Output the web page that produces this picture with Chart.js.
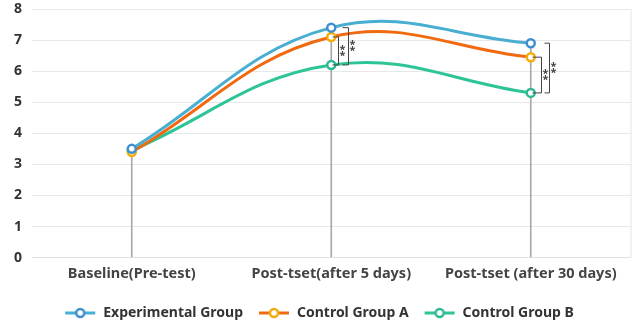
<!DOCTYPE html>
<html>
<head>
<meta charset="utf-8">
<script src="https://cdn.jsdelivr.net/npm/chart.js@4/dist/chart.umd.min.js"></script>
<style>
  html, body { margin: 0; padding: 0; background: #fff; }
  #wrap { width: 637px; height: 326px; }
</style>
</head>
<body>
<div id="wrap"><canvas id="c"></canvas></div>
<script>
const categories = ['Baseline(Pre-test)', 'Post-tset(after 5 days)', 'Post-tset (after 30 days)']
const experimental = [3.5, 7.4, 6.9]
const controlA = [3.4, 7.1, 6.45]
const controlB = [3.45, 6.2, 5.3]
const yTicks = [0, 1, 2, 3, 4, 5, 6, 7, 8]

// significance brackets: category, from-series, to-series
const brackets = [
  { cat: 1, from: 1, to: 2, dx: 7, tick: 6, label: '**' },
  { cat: 1, from: 0, to: 2, dx: 17, tick: 6, label: '**' },
  { cat: 2, from: 1, to: 2, dx: 10, tick: 9, label: '**' },
  { cat: 2, from: 0, to: 2, dx: 18, tick: 5, label: '**' },
]

const series = [
  { label: 'Experimental Group', data: experimental, line: '#48afd3', point: '#3d8fd1' },
  { label: 'Control Group A', data: controlA, line: '#f26a10', point: '#f4ac0c' },
  { label: 'Control Group B', data: controlB, line: '#2dc497', point: '#2fb895' },
]

const font = '"Noto Sans", "DejaVu Sans", sans-serif'

function legendIcon(line, point) {
  const cv = document.createElement('canvas')
  cv.width = 32
  cv.height = 12
  const ctx = cv.getContext('2d')
  ctx.strokeStyle = line
  ctx.lineWidth = 3
  ctx.beginPath()
  ctx.moveTo(1, 6)
  ctx.lineTo(31, 6)
  ctx.stroke()
  ctx.fillStyle = '#fff'
  ctx.strokeStyle = point
  ctx.lineWidth = 2.5
  ctx.beginPath()
  ctx.arc(16, 6, 4, 0, Math.PI * 2)
  ctx.fill()
  ctx.stroke()
  return cv
}

const frame = {
  id: 'frame',
  beforeDatasetsDraw(chart) {
    const { ctx, chartArea: a } = chart
    ctx.save()
    ctx.strokeStyle = '#e6e6e6'
    ctx.lineWidth = 1
    ctx.beginPath()
    ctx.moveTo(a.right + 0.5, a.top)
    ctx.lineTo(a.right + 0.5, a.bottom)
    ctx.stroke()
    ctx.restore()
  },
}

const sig = {
  id: 'sig',
  afterDatasetsDraw(chart) {
    const { ctx, scales } = chart
    ctx.save()
    ctx.strokeStyle = '#444'
    ctx.fillStyle = '#444'
    ctx.lineWidth = 1
    ctx.font = 'bold 11px ' + font
    ctx.textAlign = 'center'
    ctx.textBaseline = 'middle'
    for (const b of brackets) {
      const cx = scales.x.getPixelForValue(b.cat)
      const y1 = scales.y.getPixelForValue(series[b.from].data[b.cat])
      const y2 = scales.y.getPixelForValue(series[b.to].data[b.cat])
      const x = Math.round(cx + b.dx) + 0.5
      ctx.beginPath()
      ctx.moveTo(x - b.tick, y1)
      ctx.lineTo(x, y1)
      ctx.lineTo(x, y2)
      ctx.lineTo(x - b.tick, y2)
      ctx.stroke()
      const my = (y1 + y2) / 2
      ctx.fillText('*', x + 4, my - 1)
      ctx.fillText('*', x + 4, my + 5)
    }
    ctx.restore()
  },
}

const datasets = series.map((s) => ({
  type: 'line',
  label: s.label,
  data: s.data,
  borderColor: s.line,
  backgroundColor: '#fff',
  borderWidth: 3,
  tension: 0.4,
  pointStyle: 'circle',
  pointRadius: 4,
  pointBorderWidth: 2.5,
  pointBorderColor: s.point,
  pointBackgroundColor: '#fff',
  order: 1,
}))

datasets.push({
  type: 'bar',
  label: 'drop',
  data: categories.map((_, i) => Math.max(experimental[i], controlA[i], controlB[i])),
  backgroundColor: '#a9a9a9',
  barThickness: 1,
  order: 10,
})

new Chart(document.getElementById('c'), {
  data: { labels: categories, datasets },
  plugins: [frame, sig],
  options: {
    responsive: true,
    maintainAspectRatio: false,
    animation: false,
    layout: { padding: { top: 9, right: 3, left: 4, bottom: -4 } },
    scales: {
      x: {
        offset: true,
        grid: { display: false, drawTicks: false },
        border: { color: '#e0e0e0' },
        ticks: {
          color: '#444',
          font: { family: font, size: 14.5, weight: 'bold' },
          padding: 8,
        },
      },
      y: {
        min: 0,
        max: 8,
        afterBuildTicks(axis) {
          axis.ticks = yTicks.map((v) => ({ value: v }))
        },
        afterFit(axis) {
          axis.paddingTop = 0
          axis.paddingBottom = 0
        },
        grid: { color: '#e8e8e8', drawTicks: false },
        border: { display: false },
        ticks: {
          color: '#333',
          font: { family: font, size: 14, weight: 'bold' },
          padding: 10,
        },
      },
    },
    plugins: {
      tooltip: { enabled: false },
      legend: {
        position: 'bottom',
        labels: {
          color: '#333',
          font: { family: font, size: 14, weight: 'bold' },
          usePointStyle: true,
          pointStyleWidth: 32,
          boxHeight: 12,
          padding: 15,
          generateLabels(chart) {
            return series.map((s, i) => ({
              text: s.label,
              fontColor: '#333',
              pointStyle: legendIcon(s.line, s.point),
              datasetIndex: i,
              lineWidth: 0,
              strokeStyle: 'transparent',
              fillStyle: 'transparent',
            }))
          },
        },
      },
    },
  },
})
</script>
</body>
</html>
